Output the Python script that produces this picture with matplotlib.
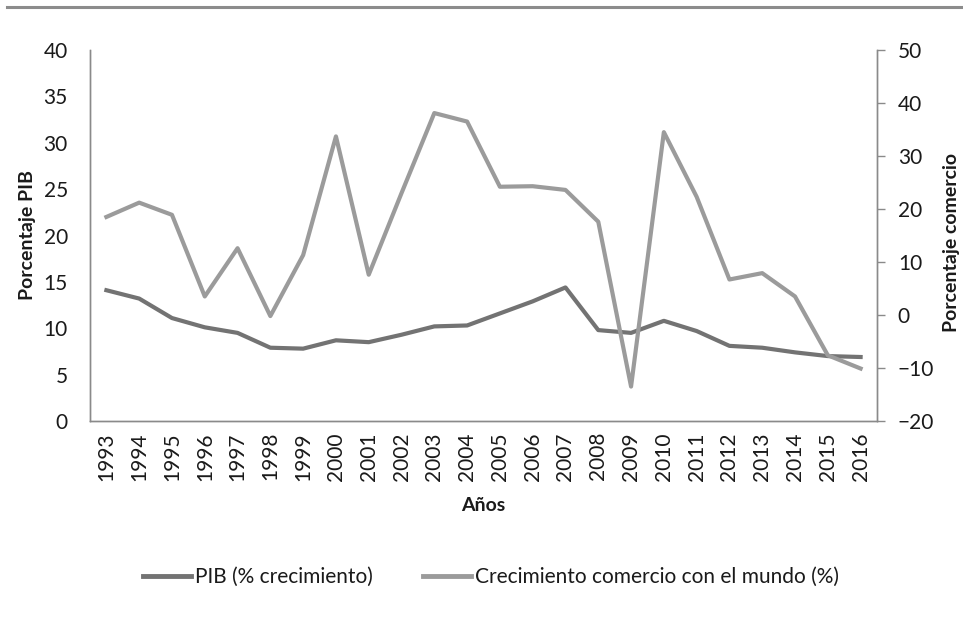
import matplotlib.pyplot as plt
from matplotlib.lines import Line2D

plt.rcParams['font.family'] = ['Lato', 'DejaVu Sans']

years = ['1993', '1994', '1995', '1996', '1997', '1998', '1999', '2000',
         '2001', '2002', '2003', '2004', '2005', '2006', '2007', '2008',
         '2009', '2010', '2011', '2012', '2013', '2014', '2015', '2016']

# PIB (% crecimiento), eje izquierdo
pib = [14.1, 13.2, 11.1, 10.1, 9.5, 7.9, 7.8, 8.7, 8.5, 9.3, 10.2, 10.3,
       11.6, 12.9, 14.4, 9.8, 9.5, 10.8, 9.7, 8.1, 7.9, 7.4, 7.0, 6.9]

# Crecimiento comercio con el mundo (%), eje derecho
comercio = [18.5, 21.2, 18.9, 3.5, 12.6, -0.2, 11.3, 33.7, 7.6, 23.0, 38.1, 36.5,
            24.2, 24.3, 23.6, 17.6, -13.5, 34.5, 22.3, 6.7, 7.9, 3.5, -7.6, -10.1]

c_pib = '#737373'
c_com = '#9b9b9b'
c_axis = '#8a8a8a'
txt = '#1a1a1a'
fs = 15

fig = plt.figure(figsize=(9.63, 6.2), dpi=100)
ax = fig.add_axes([90 / 963, 1 - 421 / 620, (877 - 90) / 963, (421 - 50) / 620])
ax2 = ax.twinx()

x = range(len(years))
ax.plot(x, pib, color=c_pib, lw=3.0, solid_joinstyle='round', zorder=3)
ax2.plot(x, comercio, color=c_com, lw=3.0, solid_joinstyle='round', zorder=2)

ax.set_xlim(-0.5, len(years) - 0.5)
ax.set_ylim(0, 40)
ax.set_yticks(range(0, 41, 5))
ax2.set_ylim(-20, 50)
ax2.set_yticks(range(-20, 51, 10))

ax.set_xticks(list(x))
ax.set_xticklabels(years, rotation=90, fontsize=fs, color=txt)
ax.tick_params(axis='x', length=0, pad=8)
ax.tick_params(axis='y', length=0, pad=16, labelsize=fs, labelcolor=txt)
ax2.tick_params(axis='y', length=6, width=1, color=c_axis, pad=9,
                labelsize=fs, labelcolor=txt)

for a in (ax, ax2):
    a.spines['top'].set_visible(False)
    for s in ('left', 'right', 'bottom'):
        a.spines[s].set_color(c_axis)
        a.spines[s].set_linewidth(1.0)

ax.set_xlabel('Años', fontsize=14, fontweight='bold', color=txt, labelpad=12)
ax.set_ylabel('Porcentaje PIB', fontsize=14, fontweight='bold', color=txt, va='center')
ax2.set_ylabel('Porcentaje comercio', fontsize=14, fontweight='bold', color=txt, va='center')
ax.yaxis.set_label_coords((27 - 90) / 787, 0.5)
ax2.yaxis.set_label_coords((951 - 90) / 787, 0.48)

# linea gris superior
fig.add_artist(Line2D([7 / 963, 1], [1 - 7 / 620, 1 - 7 / 620],
                      transform=fig.transFigure, color='#8c8c8c', lw=2.2))

handles = [Line2D([], [], color=c_pib, lw=3.5),
           Line2D([], [], color=c_com, lw=3.5)]
fig.legend(handles, ['PIB (% crecimiento)', 'Crecimiento comercio con el mundo (%)'],
           loc='center', bbox_to_anchor=(491 / 963, 1 - 577 / 620), ncol=2,
           frameon=False, fontsize=fs, handlelength=2.3, handletextpad=0.2,
           columnspacing=2.4, labelcolor=txt)

fig.savefig('out.png', dpi=100)
